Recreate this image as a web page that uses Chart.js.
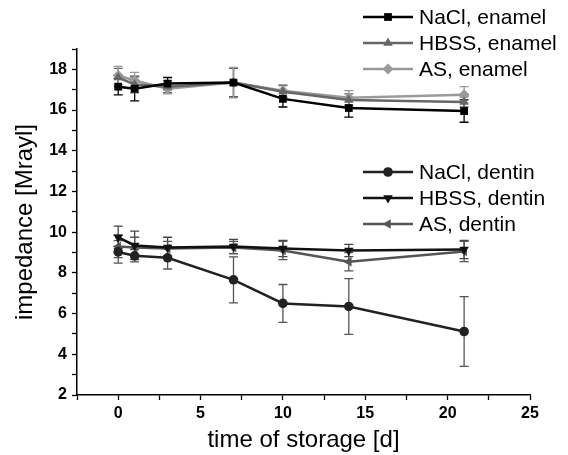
<!DOCTYPE html>
<html>
<head>
<meta charset="utf-8">
<script src="https://cdn.jsdelivr.net/npm/chart.js@4.4.0/dist/chart.umd.min.js"></script>
<style>
html, body { margin: 0; padding: 0; background: #fff; }
</style>
</head>
<body>
<canvas id="chart" width="568" height="455"></canvas>

<script>
// storage time [d]
var days = [0, 1, 3, 7, 10, 14, 21];

var seriesLabels = ['NaCl, enamel', 'HBSS, enamel', 'AS, enamel',
                    'NaCl, dentin', 'HBSS, dentin', 'AS, dentin'];

var naclEnamel    = [17.15, 17.05, 17.3, 17.35, 16.55, 16.1, 15.95];
var naclEnamelErr = [0.4, 0.6, 0.3, 0.7, 0.4, 0.45, 0.55];
var hbssEnamel    = [17.6, 17.25, 17.15, 17.35, 16.9, 16.5, 16.4];
var hbssEnamelErr = [0.45, 0.4, 0.3, 0.7, 0.3, 0.3, 0.25];
var asEnamel      = [17.7, 17.45, 17.05, 17.35, 16.95, 16.6, 16.75];
var asEnamelErr   = [0.45, 0.4, 0.25, 0.75, 0.3, 0.35, 0.4];

var naclDentin    = [9.03, 8.84, 8.74, 7.66, 6.5, 6.35, 5.12];
var naclDentinErr = [0.55, 0.3, 0.55, 1.13, 0.93, 1.37, 1.71];
var hbssDentin    = [9.75, 9.35, 9.25, 9.3, 9.2, 9.1, 9.15];
var hbssDentinErr = [0.55, 0.7, 0.5, 0.35, 0.4, 0.3, 0.45];
var asDentin      = [9.3, 9.25, 9.2, 9.25, 9.1, 8.55, 9.05];
var asDentinErr   = [0.55, 0.5, 0.35, 0.3, 0.45, 0.45, 0.5];

var xTicks = [0, 5, 10, 15, 20, 25];
var yTicks = [2, 4, 6, 8, 10, 12, 14, 16, 18];
</script>

<script>
function pts(vals) {
	return days.map(function(d, j) { return {x: d, y: vals[j]}; });
}

function makeSet(label, vals, errs, color, errColor, style, rot, rad) {
	return {
		label: label,
		data: pts(vals),
		errors: errs,
		errorColor: errColor,
		borderColor: color,
		backgroundColor: color,
		borderWidth: 2.5,
		pointStyle: style,
		rotation: rot,
		pointRadius: rad,
		pointBorderWidth: 0,
		pointHoverRadius: rad,
		tension: 0
	};
}

var sets = [
	makeSet(seriesLabels[0], naclEnamel, naclEnamelErr, '#000000', '#000000', 'rect', 0, 5.5),
	makeSet(seriesLabels[1], hbssEnamel, hbssEnamelErr, '#666666', '#666666', 'triangle', 0, 5.5),
	makeSet(seriesLabels[2], asEnamel, asEnamelErr, '#9a9a9a', '#9a9a9a', 'rectRot', 0, 5.5),
	makeSet(seriesLabels[3], naclDentin, naclDentinErr, '#222222', '#555555', 'circle', 0, 4.8),
	makeSet(seriesLabels[4], hbssDentin, hbssDentinErr, '#111111', '#444444', 'triangle', 180, 5.5),
	makeSet(seriesLabels[5], asDentin, asDentinErr, '#555555', '#555555', 'triangle', -90, 5.5)
];

// vertical error bars with caps, positioned through the chart scales
var errorBars = {
	id: 'errorBars',
	beforeDatasetsDraw: function(chart) {
		var ctx = chart.ctx, sx = chart.scales.x, sy = chart.scales.y;
		chart.data.datasets.forEach(function(ds) {
			ctx.save();
			ctx.strokeStyle = ds.errorColor;
			ctx.lineWidth = 1.3;
			ds.data.forEach(function(p, j) {
				var px = sx.getPixelForValue(p.x);
				var top = sy.getPixelForValue(p.y + ds.errors[j]);
				var bot = sy.getPixelForValue(p.y - ds.errors[j]);
				ctx.beginPath();
				ctx.moveTo(px, top); ctx.lineTo(px, bot);
				ctx.moveTo(px - 4.5, top); ctx.lineTo(px + 4.5, top);
				ctx.moveTo(px - 4.5, bot); ctx.lineTo(px + 4.5, bot);
				ctx.stroke();
			});
			ctx.restore();
		});
	}
};

// two legend blocks on the right (enamel above, dentin below)
var splitLegend = {
	id: 'splitLegend',
	afterDraw: function(chart) {
		var ctx = chart.ctx;
		var groupTop = [17, 172];
		ctx.save();
		chart.data.datasets.forEach(function(ds, i) {
			var g = Math.floor(i / 3), r = i % 3;
			var y = groupTop[g] + r * 26;
			ctx.strokeStyle = ds.borderColor;
			ctx.lineWidth = 2.5;
			ctx.beginPath();
			ctx.moveTo(363, y); ctx.lineTo(413, y);
			ctx.stroke();
			ctx.fillStyle = ds.backgroundColor;
			Chart.helpers.drawPoint(ctx, {pointStyle: ds.pointStyle, rotation: ds.rotation, radius: ds.pointRadius, borderWidth: 0}, 388, y);
			ctx.fillStyle = '#000';
			ctx.font = '21px "Liberation Sans", Arial, sans-serif';
			ctx.textBaseline = 'middle';
			ctx.textAlign = 'left';
			ctx.fillText(ds.label, 419, y + 1);
		});
		ctx.restore();
	}
};

var tickFont = {family: '"Liberation Sans", Arial, sans-serif', size: 16, weight: 'bold'};
var titleFont = {family: '"Liberation Sans", Arial, sans-serif', size: 24};

var chart = new Chart(document.getElementById('chart'), {
	type: 'line',
	data: { datasets: sets },
	plugins: [errorBars, splitLegend],
	options: {
		responsive: false,
		animation: false,
		layout: { padding: {top: 49, right: 38, left: 0, bottom: 0} },
		plugins: { legend: {display: false}, tooltip: {enabled: false} },
		scales: {
			x: {
				type: 'linear',
				min: -2.5, max: 25,
				afterFit: function(s) { s.height = 60; },
				ticks: {
					stepSize: 2.5, autoSkip: false, maxRotation: 0,
					color: '#000', font: tickFont, padding: 4,
					callback: function(v) { return xTicks.indexOf(v) >= 0 ? String(v) : ''; }
				},
				grid: { drawOnChartArea: false, drawTicks: true, tickLength: 5, tickColor: '#000', tickWidth: 1.3 },
				border: { display: true, color: '#000', width: 1.5 },
				title: { display: true, text: 'time of storage [d]', color: '#000', font: titleFont, padding: {top: 0, bottom: 0} }
			},
			y: {
				min: 2, max: 19,
				afterFit: function(s) { s.width = 77; },
				ticks: {
					stepSize: 1, autoSkip: false,
					color: '#000', font: tickFont, padding: 5,
					callback: function(v) { return yTicks.indexOf(v) >= 0 ? String(v) : ''; }
				},
				grid: { drawOnChartArea: false, drawTicks: true, tickLength: 5, tickColor: '#000', tickWidth: 1.3 },
				border: { display: true, color: '#000', width: 1.5 },
				title: { display: true, text: 'impedance [Mrayl]', color: '#000', font: titleFont, padding: {top: 11, bottom: 0} }
			}
		}
	}
});
</script>
</body>
</html>
